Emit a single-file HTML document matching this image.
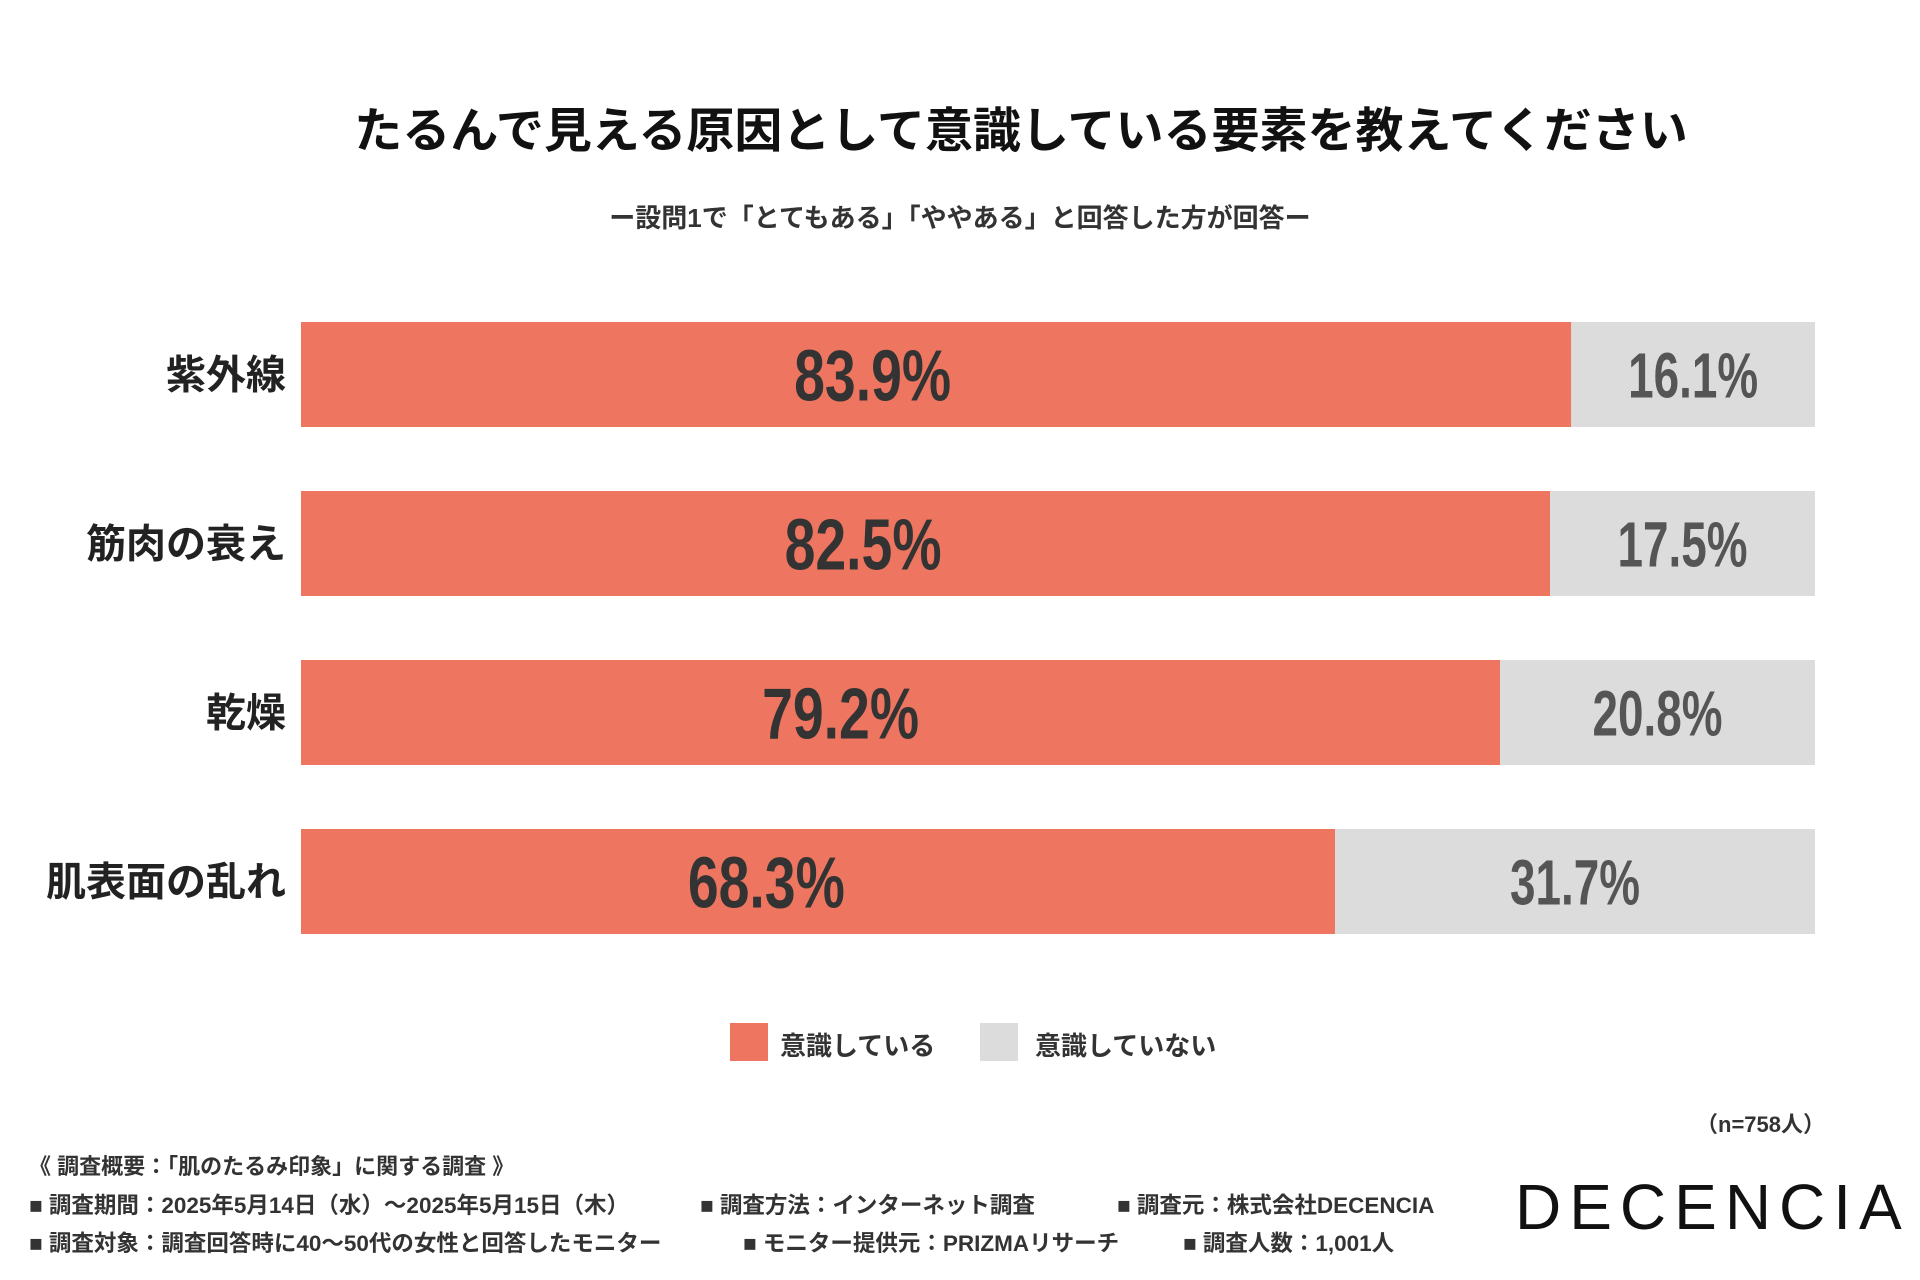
<!DOCTYPE html>
<html><head><meta charset="utf-8"><style>
body{margin:0;width:1920px;height:1280px;background:#fff;position:relative;overflow:hidden;font-family:"Liberation Sans","Noto Sans CJK JP",sans-serif;color:#222}
.t{position:absolute;white-space:nowrap}
</style></head><body>
<div class="t" style="left:0;width:2042px;text-align:center;top:91px;font-size:48px;font-weight:bold;color:#111">たるんで見える原因として意識している要素を教えてください</div>
<div class="t" style="left:0;width:1920px;text-align:center;top:198px;font-size:26px;font-weight:bold;color:#333">ー設問1で「とてもある」「ややある」と回答した方が回答ー</div>
<svg id="chart" width="1920" height="1280" style="position:absolute;left:0;top:0"></svg>
<div class="t" style="left:730px;top:1023px;width:38px;height:38px;background:#EE7660"></div>
<div class="t" style="left:780px;top:1026px;font-size:26px;font-weight:bold;color:#333">意識している</div>
<div class="t" style="left:980px;top:1023px;width:38px;height:38px;background:#DCDCDC"></div>
<div class="t" style="left:1035px;top:1026px;font-size:26px;font-weight:bold;color:#333">意識していない</div>
<div class="t" style="right:95px;top:1107px;font-size:22px;font-weight:bold;color:#333">（n=758人）</div>
<div class="t" style="left:29px;top:1149px;font-size:22px;font-weight:bold;color:#333">《 調査概要：「肌のたるみ印象」に関する調査 》</div>
<div class="t" style="left:29px;top:1188px;font-size:22.5px;font-weight:bold;color:#333">■ 調査期間：2025年5月14日（水）〜2025年5月15日（木）</div>
<div class="t" style="left:700px;top:1188px;font-size:22.5px;font-weight:bold;color:#333">■ 調査方法：インターネット調査</div>
<div class="t" style="left:1117px;top:1188px;font-size:22.5px;font-weight:bold;color:#333">■ 調査元：株式会社DECENCIA</div>
<div class="t" style="left:29px;top:1226px;font-size:22.5px;font-weight:bold;color:#333">■ 調査対象：調査回答時に40〜50代の女性と回答したモニター</div>
<div class="t" style="left:743px;top:1226px;font-size:22.5px;font-weight:bold;color:#333">■ モニター提供元：PRIZMAリサーチ</div>
<div class="t" style="left:1183px;top:1226px;font-size:22.5px;font-weight:bold;color:#333">■ 調査人数：1,001人</div>
<div class="t" style="left:1515px;top:1170px;font-size:64px;letter-spacing:8px;color:#111">DECENCIA</div>
<script>
const categories=["紫外線","筋肉の衰え","乾燥","肌表面の乱れ"];
const awareValues=[83.9,82.5,79.2,68.3];
const unawareValues=[16.1,17.5,20.8,31.7];
const svg=document.getElementById('chart');
const NS='http://www.w3.org/2000/svg';
const x0=301,x1=1815,top0=322,step=169,bh=105;
const xs=v=>x0+(x1-x0)*v/100;
function mk(tag,attrs){const e=document.createElementNS(NS,tag);for(const k in attrs)e.setAttribute(k,attrs[k]);svg.appendChild(e);return e;}
categories.forEach((c,i)=>{
  const y=top0+i*step, a=awareValues[i], u=unawareValues[i];
  const r1=mk('rect',{x:x0,y:y,width:xs(a)-x0,height:bh,fill:'#EE7660'});
  
  
  const r2=mk('rect',{x:xs(a),y:y,width:xs(a+u)-xs(a),height:bh,fill:'#DCDCDC'});
  
  
  const l=mk('text',{x:286,y:y+bh/2+14,'text-anchor':'end','font-size':40,'font-weight':'bold',fill:'#222','font-family':'Liberation Sans, Noto Sans CJK JP, sans-serif'});
  l.textContent=c;
  
  
  const t1=mk('text',{x:x0+(xs(a)-x0)*0.45,y:y+bh/2+26,'text-anchor':'middle','font-size':72,'font-weight':'bold',fill:'#333','font-family':'Liberation Sans, sans-serif',textLength:157,lengthAdjust:'spacingAndGlyphs'});
  t1.textContent=a.toFixed(1)+'%';
  
  
  const t2=mk('text',{x:(xs(a)+xs(a+u))/2,y:y+bh/2+23,'text-anchor':'middle','font-size':64,'font-weight':'bold',fill:'#555','font-family':'Liberation Sans, sans-serif',textLength:130,lengthAdjust:'spacingAndGlyphs'});
  t2.textContent=u.toFixed(1)+'%';
  
  
});
</script>
</body></html>
